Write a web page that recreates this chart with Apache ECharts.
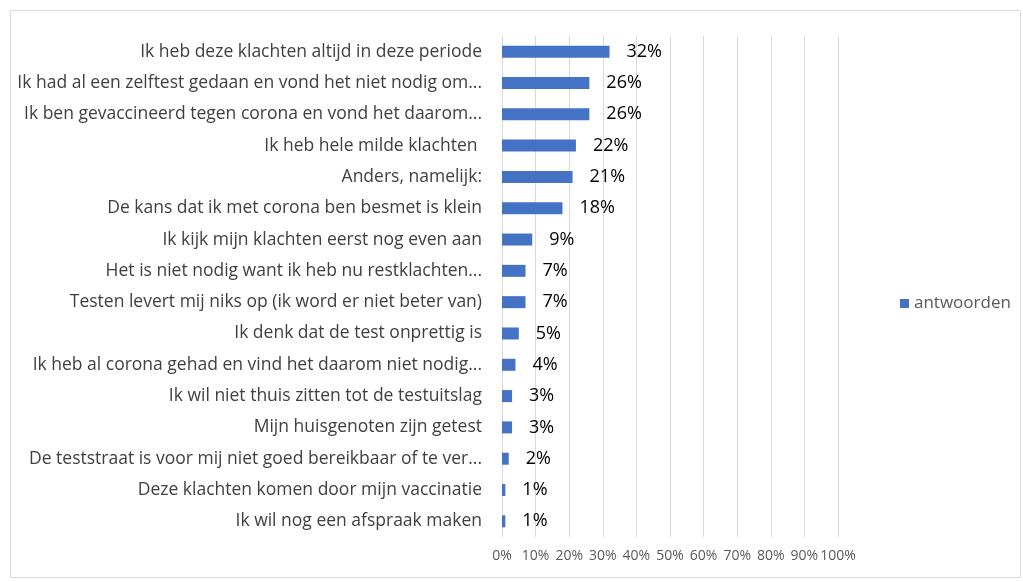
<!DOCTYPE html>
<html>
<head>
<meta charset="utf-8">
<script src="https://cdn.jsdelivr.net/npm/echarts@6/dist/echarts.min.js"></script>
<style>
  html, body { margin: 0; padding: 0; background: #fff; }
  #myChart { width: 1023px; height: 582px; }
</style>
</head>
<body>
<div id="myChart"></div>
<script>
// categories, top to bottom as in the picture
var categories = [
    'Ik heb deze klachten altijd in deze periode',
    'Ik had al een zelftest gedaan en vond het niet nodig om...',
    'Ik ben gevaccineerd tegen corona en vond het daarom...',
    'Ik heb hele milde klachten ',
    'Anders, namelijk:',
    'De kans dat ik met corona ben besmet is klein',
    'Ik kijk mijn klachten eerst nog even aan',
    'Het is niet nodig want ik heb nu restklachten...',
    'Testen levert mij niks op (ik word er niet beter van)',
    'Ik denk dat de test onprettig is',
    'Ik heb al corona gehad en vind het daarom niet nodig...',
    'Ik wil niet thuis zitten tot de testuitslag',
    'Mijn huisgenoten zijn getest',
    'De teststraat is voor mij niet goed bereikbaar of te ver...',
    'Deze klachten komen door mijn vaccinatie',
    'Ik wil nog een afspraak maken'
];
var antwoorden = [32, 26, 26, 22, 21, 18, 9, 7, 7, 5, 4, 3, 3, 2, 1, 1];

var font = '"Open Sans", "Liberation Sans", Arial, sans-serif';

// 基于准备好的dom，初始化echarts实例
var myChart = echarts.init(document.getElementById('myChart'));

myChart.setOption({
    animation: false,
    textStyle: { fontFamily: font },
    grid: { left: 502, right: 185, top: 36, bottom: 45, containLabel: false },
    legend: {
        data: ['antwoorden'],
        orient: 'vertical',
        left: 895,
        top: 290,
        icon: 'rect',
        itemWidth: 9,
        itemHeight: 9,
        itemGap: 4,
        textStyle: { fontSize: 17, color: '#595959', fontFamily: font }
    },
    xAxis: {
        type: 'value',
        min: 0,
        max: 100,
        interval: 10,
        axisLine: { show: false },
        axisTick: { show: false },
        splitLine: { lineStyle: { color: '#d9d9d9', width: 1 } },
        axisLabel: {
            formatter: '{value}%',
            fontSize: 14,
            color: '#595959',
            margin: 12,
            showMinLabel: true,
            showMaxLabel: true,
            hideOverlap: false,
            interval: 0,
            fontFamily: font
        }
    },
    yAxis: {
        type: 'category',
        inverse: true,
        data: categories,
        axisLine: { show: false },
        axisTick: { show: false },
        axisLabel: {
            fontSize: 17.5,
            color: '#404040',
            margin: 20,
            interval: 0,
            fontFamily: font
        }
    },
    series: [{
        name: 'antwoorden',
        type: 'bar',
        data: antwoorden,
        barWidth: 12,
        itemStyle: { color: '#4472c4' },
        label: {
            show: true,
            position: 'right',
            distance: 17,
            formatter: '{c}%',
            fontSize: 18,
            color: '#000',
            fontFamily: font
        }
    }],
    graphic: [{
        type: 'rect',
        shape: { x: 10.5, y: 10.5, width: 1010, height: 567 },
        style: { fill: 'none', stroke: '#d9d9d9', lineWidth: 1 },
        silent: true
    }]
});
</script>
</body>
</html>
